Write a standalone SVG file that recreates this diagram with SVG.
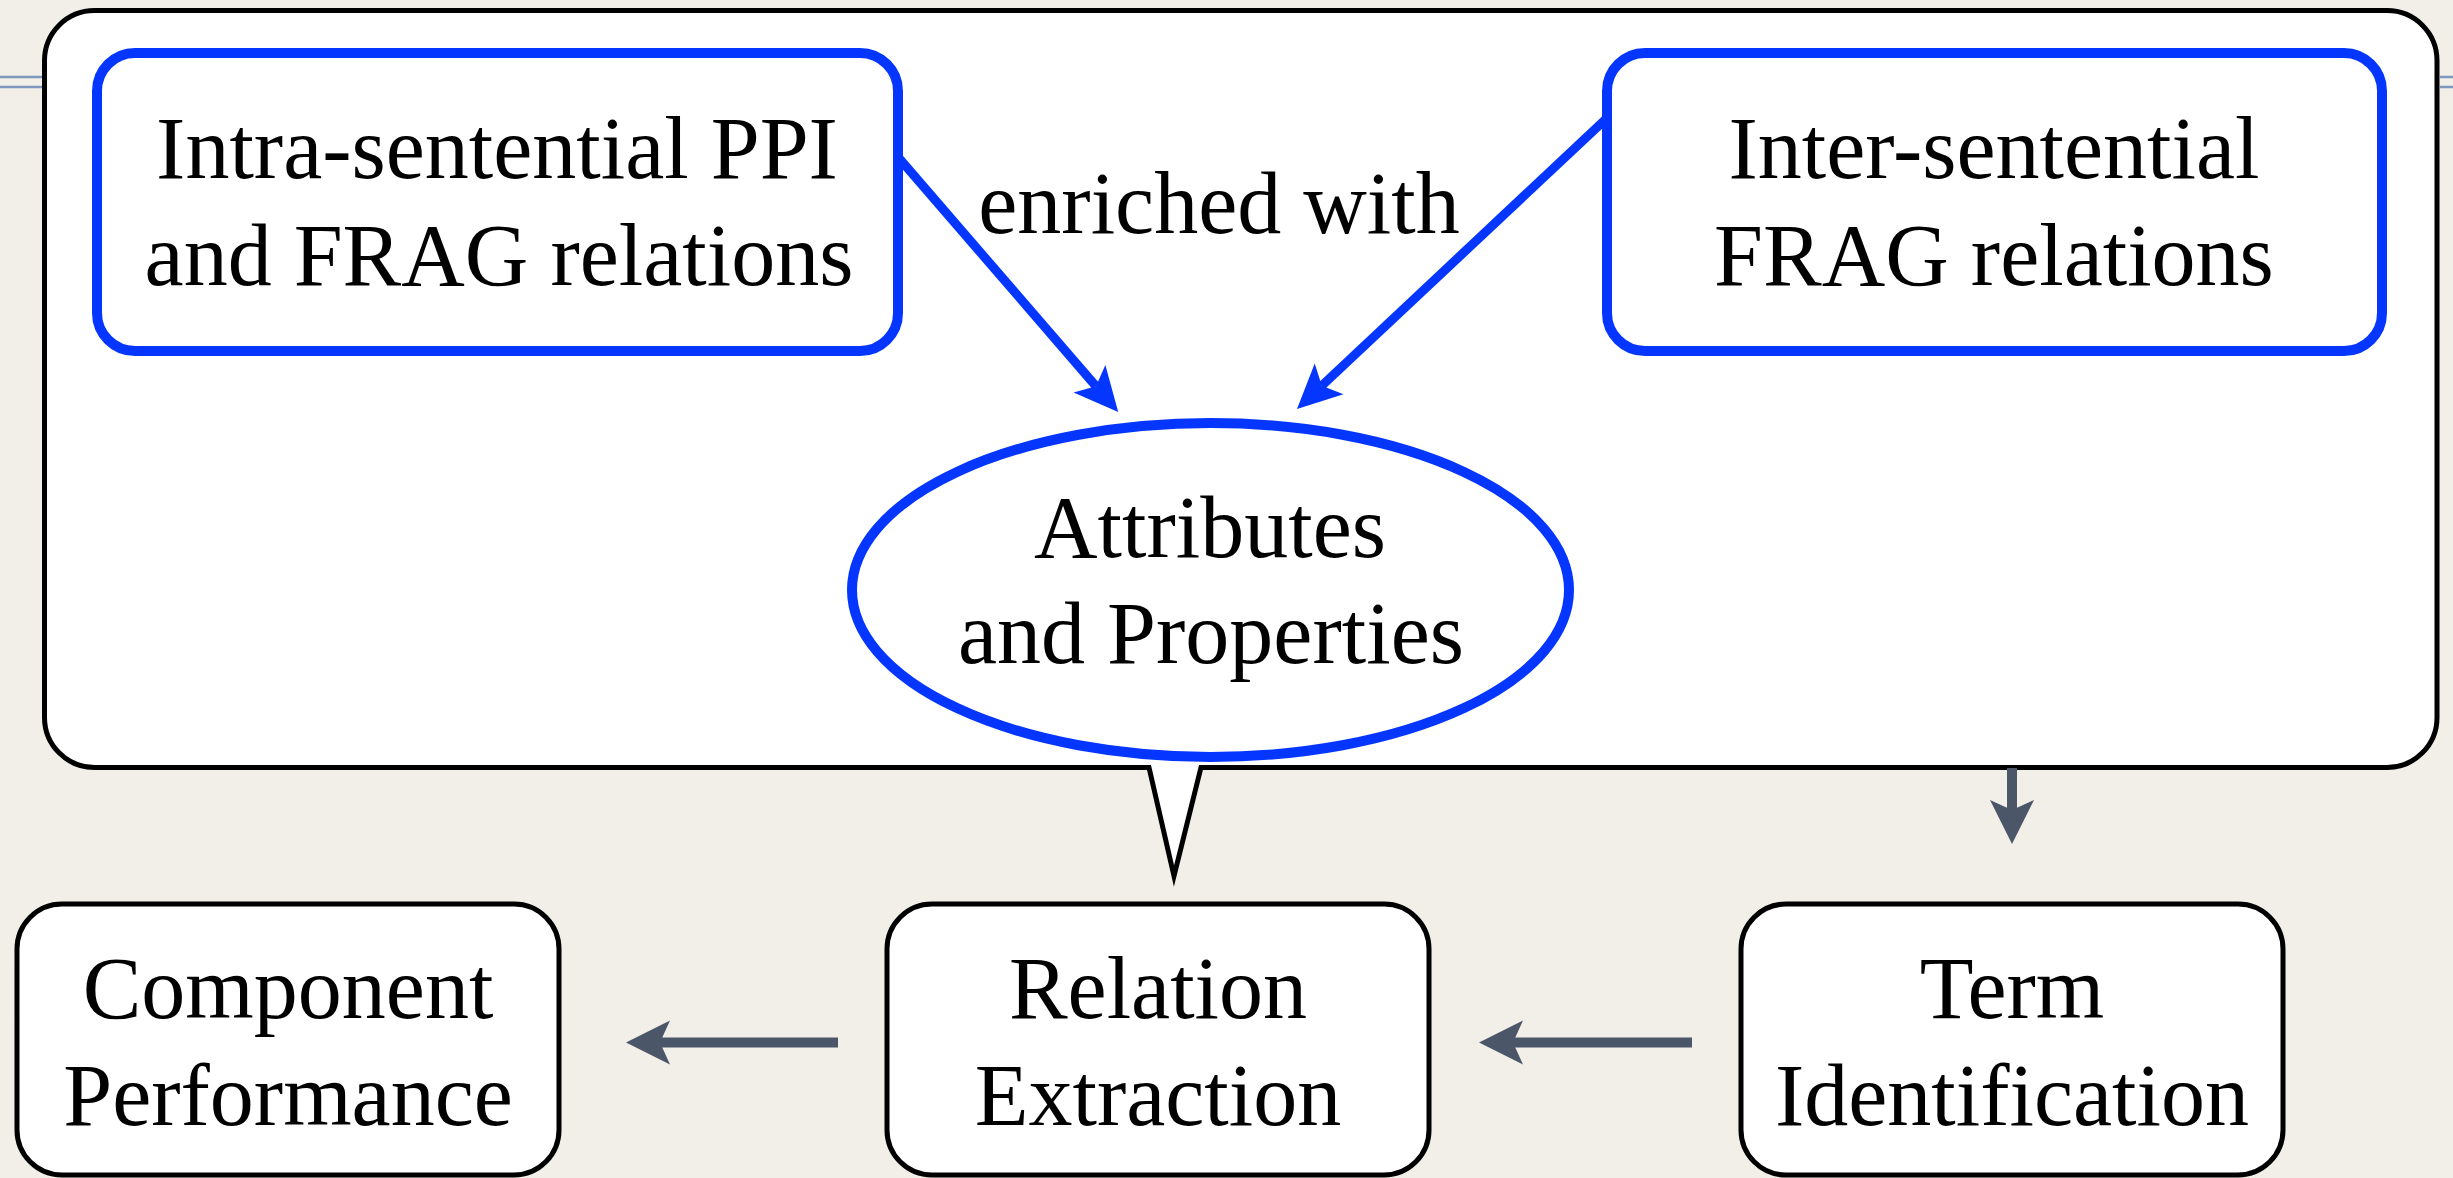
<svg xmlns="http://www.w3.org/2000/svg" width="2453" height="1178" viewBox="0 0 2453 1178">
  <style>
    .lbl { font-family: "Liberation Serif", "Times New Roman", serif; font-size: 88px; fill: #000; text-anchor: middle; }
    .blue { fill: #fff; stroke: #0536ff; stroke-width: 10; }
    .step { fill: #fff; stroke: #000; stroke-width: 5; }
    .link-blue { fill: none; stroke: #0536ff; stroke-width: 9; }
    .link-gray { fill: none; stroke: #4b5669; stroke-width: 10; }
    .rule { stroke: #7f98c0; stroke-width: 2.5; }
  </style>
  <defs>
    <marker id="headBlue" markerUnits="userSpaceOnUse" viewBox="0 -22 44 44" markerWidth="44" markerHeight="44" refX="10" refY="0" orient="auto">
      <path d="M0,-21 L44,0 L0,21 L10,0 Z" fill="#0536ff"/>
    </marker>
    <marker id="headGray" markerUnits="userSpaceOnUse" viewBox="0 -23 44 46" markerWidth="44" markerHeight="46" refX="10" refY="0" orient="auto">
      <path d="M0,-22 L44,0 L0,22 L10,0 Z" fill="#4b5669"/>
    </marker>
  </defs>

  <!-- page background and header rules -->
  <rect x="0" y="0" width="2453" height="1178" fill="#f2efe9"/>
  <g id="header-rules">
    <line class="rule" x1="0" y1="77" x2="44" y2="77"/>
    <line class="rule" x1="0" y1="87" x2="44" y2="87"/>
    <line class="rule" x1="2440" y1="77" x2="2453" y2="77"/>
    <line class="rule" x1="2440" y1="87" x2="2453" y2="87"/>
  </g>

  <!-- speech-bubble panel pointing at Relation Extraction -->
  <g id="callout">
    <path d="M94.5,10.5 H2387 A50,50 0 0 1 2437,60.5 V717.5 A50,50 0 0 1 2387,767.5 H1201 L1174,876 L1149,767.5 H94.5 A50,50 0 0 1 44.5,717.5 V60.5 A50,50 0 0 1 94.5,10.5 Z" fill="#fff" stroke="#000" stroke-width="5" stroke-linejoin="miter" stroke-miterlimit="10"/>
  </g>

  <g id="intra">
    <rect class="blue" x="97" y="53" width="801" height="298" rx="38" ry="38"/>
    <text class="lbl" x="497" y="178">Intra-sentential PPI</text>
    <text class="lbl" x="499" y="285">and FRAG relations</text>
  </g>

  <g id="inter">
    <rect class="blue" x="1607" y="53" width="775" height="298" rx="38" ry="38"/>
    <text class="lbl" x="1994" y="178">Inter-sentential</text>
    <text class="lbl" x="1994" y="285">FRAG relations</text>
  </g>

  <g id="attributes">
    <ellipse class="blue" cx="1210.5" cy="590" rx="358.5" ry="167"/>
    <text class="lbl" x="1210" y="557">Attributes</text>
    <text class="lbl" x="1211" y="663">and Properties</text>
  </g>

  <g id="enriched-label">
    <text class="lbl" x="1219" y="233">enriched with</text>
  </g>

  <g id="component">
    <rect class="step" x="17" y="904" width="542" height="271" rx="45" ry="45"/>
    <text class="lbl" x="288" y="1018">Component</text>
    <text class="lbl" x="288" y="1125">Performance</text>
  </g>

  <g id="relation">
    <rect class="step" x="887" y="904" width="542" height="271" rx="45" ry="45"/>
    <text class="lbl" x="1158" y="1018">Relation</text>
    <text class="lbl" x="1158" y="1125">Extraction</text>
  </g>

  <g id="term">
    <rect class="step" x="1741" y="904" width="542" height="271" rx="45" ry="45"/>
    <text class="lbl" x="2012" y="1018">Term</text>
    <text class="lbl" x="2012" y="1125">Identification</text>
  </g>

  <g id="connectors">
    <line class="link-blue" x1="898" y1="157" x2="1096" y2="386.3" marker-end="url(#headBlue)"/>
    <line class="link-blue" x1="1607" y1="118" x2="1321.8" y2="385.7" marker-end="url(#headBlue)"/>
    <line class="link-gray" x1="2012" y1="768" x2="2012" y2="810" marker-end="url(#headGray)"/>
    <line class="link-gray" x1="1692" y1="1042.5" x2="1513" y2="1042.5" marker-end="url(#headGray)"/>
    <line class="link-gray" x1="838" y1="1042.5" x2="660" y2="1042.5" marker-end="url(#headGray)"/>
  </g>
</svg>
